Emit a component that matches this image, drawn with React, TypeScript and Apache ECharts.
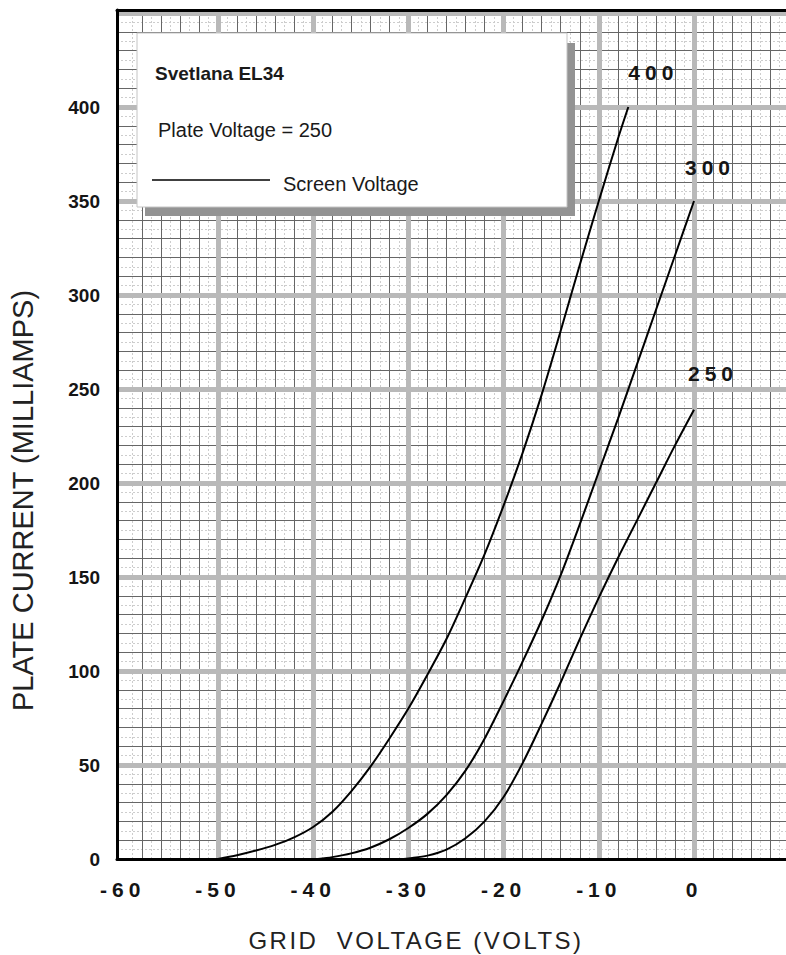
import React, { useEffect, useRef } from "react";
import * as echarts from "echarts";

// Screen voltage 400 V curve
const v400 = [-50, -48, -46, -44, -42, -40, -38, -36, -34, -32, -30, -28, -26, -24, -22, -20, -18, -16, -14, -12, -10, -8, -6.9];
const i400 = [0, 2, 4.5, 7.5, 11.5, 17, 25, 36, 49, 64, 80, 98, 117, 139, 162, 188, 216, 247, 281, 316, 350, 383, 400];
// Screen voltage 300 V curve
const v300 = [-39.5, -38, -36, -34, -32, -30, -28, -26, -24, -22, -20, -18, -16, -14, -12, -10, -8, -6, -4, -2, 0];
const i300 = [0, 1, 3, 6, 10.5, 16.5, 24, 34, 47, 64, 84, 105, 127, 151, 178, 206, 234, 263, 292, 321, 350];
// Screen voltage 250 V curve
const v250 = [-30.5, -30, -28, -26, -24, -22, -20, -18, -16, -14, -12, -10, -8, -6, -4, -2, 0];
const i250 = [0, 0.3, 1.8, 5, 11, 20, 33, 51, 72, 94, 117, 139, 160, 180, 200, 220, 239];

const curveNames = ["400", "300", "250"];
const xTickLabels = [-60, -50, -40, -30, -20, -10, 0];
const yTickLabels = [0, 50, 100, 150, 200, 250, 300, 350, 400];

const SPACED = "Arimo, Liberation Sans";
const TITLEX = "XTitle, Liberation Sans";
const PLAIN = "Liberation Sans";

export default function App() {
  const ref = useRef<HTMLDivElement>(null);

  useEffect(() => {
    document.body.style.margin = "0";
    const chart = echarts.init(ref.current!, null, { renderer: "svg" });

    const xMin = -60.6;
    const xMax = 9.66;
    const yMin = 0;
    const yMax = 451.6;

    const thick = { color: "#b9b9b9", width: 5, type: "solid" as const };
    const thin = { color: "#666666", width: 1, type: "solid" as const };
    const faint = { color: "#cdcdcd", width: 1, type: [2, 2] as any };

    const faintLines: any[] = [];
    const thinLines: any[] = [];
    const thickLines: any[] = [];
    for (let v = -59; v <= 9; v++) {
      if (v % 10 === 0) thickLines.push({ xAxis: v, lineStyle: thick });
      else if (v % 2 === 0) thinLines.push({ xAxis: v, lineStyle: thin });
      else faintLines.push({ xAxis: v, lineStyle: faint });
    }
    for (let i = 5; i <= 450; i += 5) {
      if (i % 50 === 0) thickLines.push({ yAxis: i, lineStyle: thick });
      else if (i % 10 === 0) thinLines.push({ yAxis: i, lineStyle: thin });
      else faintLines.push({ yAxis: i, lineStyle: faint });
    }

    const curves = [
      { name: curveNames[0], v: v400, i: i400, offset: [25, -35] },
      { name: curveNames[1], v: v300, i: i300, offset: [16, -34] },
      { name: curveNames[2], v: v250, i: i250, offset: [19, -36] },
    ];

    const curveSeries = curves.map((c) => ({
      type: "line",
      name: c.name,
      data: c.v.map((x, k) => [x, c.i[k]]),
      showSymbol: false,
      smooth: 0.3,
      silent: true,
      z: 5,
      lineStyle: { color: "#000", width: 2 },
      markPoint: {
        symbol: "circle",
        symbolSize: 2,
        silent: true,
        itemStyle: { color: "rgba(0,0,0,0)" },
        label: {
          show: true,
          position: "inside",
          offset: c.offset,
          formatter: c.name,
          fontSize: 21,
          fontWeight: "bold",
          fontFamily: SPACED,
          color: "#151515",
        },
        data: [{ coord: [c.v[c.v.length - 1], c.i[c.i.length - 1]] }],
      },
    }));

    const option: any = {
      animation: false,
      backgroundColor: "#fff",
      grid: { left: 117, right: 0, top: 10, bottom: 96, containLabel: false, outerBoundsMode: "none" },
      xAxis: [
        {
          type: "value",
          min: xMin,
          max: xMax,
          position: "bottom",
          z: 10,
          name: "GRID  VOLTAGE (VOLTS)",
          nameLocation: "middle",
          nameGap: 69,
          nameTextStyle: {
            fontSize: 24,
            fontFamily: TITLEX,
            color: "#222",
            padding: [0, 71, 0, 0],
          },
          axisLine: { show: true, onZero: false, lineStyle: { color: "#000", width: 3 } },
          axisTick: { show: false },
          splitLine: { show: false },
          axisLabel: {
            customValues: xTickLabels,
            formatter: (v: number) => String(v),
            margin: 20,
            fontSize: 21,
            fontWeight: "bold",
            fontFamily: SPACED,
            color: "#151515",
          },
        },
        {
          type: "value",
          min: xMin,
          max: xMax,
          position: "top",
          z: 10,
          axisLine: { show: true, onZero: false, lineStyle: { color: "#000", width: 3 } },
          axisTick: { show: false },
          splitLine: { show: false },
          axisLabel: { show: false },
        },
      ],
      yAxis: {
        type: "value",
        min: yMin,
        max: yMax,
        z: 10,
        name: "PLATE CURRENT (MILLIAMPS)",
        nameLocation: "middle",
        nameRotate: 90,
        nameGap: 80,
        nameTextStyle: {
          fontSize: 29,
          fontFamily: PLAIN,
          color: "#222",
          padding: [0, 132, 0, 0],
        },
        axisLine: { show: true, onZero: false, lineStyle: { color: "#000", width: 3 } },
        axisTick: { show: false },
        splitLine: { show: false },
        axisLabel: {
          customValues: yTickLabels,
          formatter: (v: number) => String(v),
          margin: 17,
          fontSize: 19,
          fontWeight: "bold",
          fontFamily: PLAIN,
          color: "#151515",
        },
      },
      series: [
        {
          type: "line",
          data: [],
          silent: true,
          z: 1,
          markLine: {
            silent: true,
            symbol: ["none", "none"],
            label: { show: false },
            emphasis: { disabled: true },
            data: [...faintLines, ...thinLines, ...thickLines],
          },
        },
        ...curveSeries,
      ],
      graphic: [
        {
          type: "rect",
          z: 100,
          shape: { x: 145, y: 43, width: 430, height: 173 },
          style: { fill: "#939393" },
        },
        {
          type: "rect",
          z: 101,
          shape: { x: 137, y: 33, width: 430, height: 174 },
          style: { fill: "#ffffff", stroke: "#c4c4c4", lineWidth: 1 },
        },
        {
          type: "text",
          z: 102,
          x: 155,
          y: 73,
          style: {
            text: "Svetlana EL34",
            fontSize: 19,
            fontWeight: "bold",
            fontFamily: PLAIN,
            fill: "#1a1a1a",
            align: "left",
            verticalAlign: "middle",
          },
        },
        {
          type: "text",
          z: 102,
          x: 158,
          y: 130,
          style: {
            text: "Plate Voltage = 250",
            fontSize: 20,
            fontFamily: PLAIN,
            fill: "#1a1a1a",
            align: "left",
            verticalAlign: "middle",
          },
        },
        {
          type: "line",
          z: 102,
          shape: { x1: 152, y1: 180, x2: 270, y2: 180 },
          style: { stroke: "#000", lineWidth: 1.5 },
        },
        {
          type: "text",
          z: 102,
          x: 283,
          y: 184,
          style: {
            text: "Screen Voltage",
            fontSize: 20,
            fontFamily: PLAIN,
            fill: "#1a1a1a",
            align: "left",
            verticalAlign: "middle",
          },
        },
      ],
    };

    chart.setOption(option);
    return () => chart.dispose();
  }, []);

  return (
    <div style={{ position: "absolute", left: 0, top: 0, width: 786, height: 955, background: "#fff" }}>
      <style>{`
        .el34chart text[style*="Arimo"] { letter-spacing: 5px; }
        .el34chart text[style*="XTitle"] { letter-spacing: 2.5px; }
      `}</style>
      <div className="el34chart" ref={ref} style={{ width: 786, height: 955 }} />
    </div>
  );
}
